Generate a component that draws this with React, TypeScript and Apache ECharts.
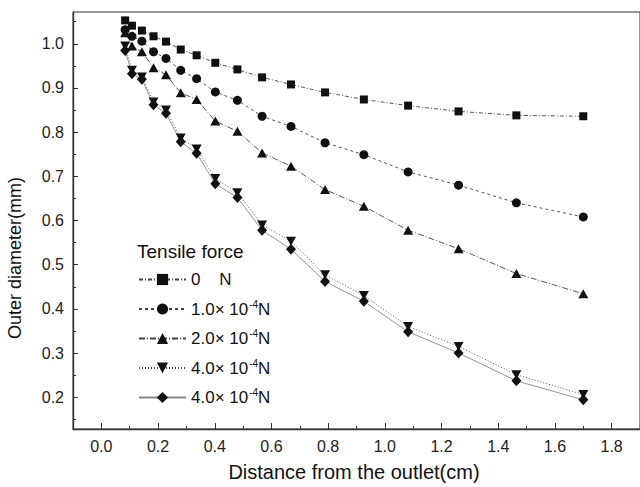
import React, { useEffect, useRef } from "react";
import * as echarts from "echarts";

const distances = [0.084, 0.108, 0.143, 0.184, 0.228, 0.28, 0.336, 0.402, 0.48, 0.567, 0.669, 0.789, 0.926, 1.082, 1.26, 1.464, 1.7];
const force0 = [1.053, 1.041, 1.03, 1.017, 1.005, 0.987, 0.974, 0.957, 0.942, 0.924, 0.908, 0.89, 0.874, 0.86, 0.847, 0.838, 0.836];
const force1 = [1.032, 1.017, 1.006, 0.982, 0.967, 0.94, 0.921, 0.891, 0.872, 0.836, 0.813, 0.776, 0.749, 0.71, 0.68, 0.64, 0.608];
const force2 = [1.025, 0.995, 0.982, 0.946, 0.93, 0.889, 0.874, 0.825, 0.802, 0.753, 0.723, 0.67, 0.632, 0.578, 0.536, 0.48, 0.434];
const force4a = [0.995, 0.94, 0.925, 0.868, 0.85, 0.787, 0.762, 0.695, 0.663, 0.59, 0.553, 0.477, 0.43, 0.36, 0.315, 0.251, 0.206];
const force4b = [0.985, 0.932, 0.92, 0.862, 0.843, 0.778, 0.752, 0.683, 0.652, 0.578, 0.535, 0.462, 0.417, 0.348, 0.3, 0.237, 0.194];

const xLabels = [0, 0.2, 0.4, 0.6, 0.8, 1.0, 1.2, 1.4, 1.6, 1.8];
const xMinor = [0.1, 0.3, 0.5, 0.7, 0.9, 1.1, 1.3, 1.5, 1.7];
const yLabels = [0.2, 0.3, 0.4, 0.5, 0.6, 0.7, 0.8, 0.9, 1.0];
const yMinor = [0.15, 0.25, 0.35, 0.45, 0.55, 0.65, 0.75, 0.85, 0.95, 1.05];

const legendTexts: Record<string, string> = {
  f0: "{a|0    N}",
  f1: "{a|1.0× 10}{s|-4}{a|N}",
  f2: "{a|2.0× 10}{s|-4}{a|N}",
  f4a: "{a|4.0× 10}{s|-4}{a|N}",
  f4b: "{a|4.0× 10}{s|-4}{a|N}",
};

const FONT = "'Liberation Sans', Arial, Helvetica, sans-serif";

export default function App() {
  const ref = useRef<HTMLDivElement>(null);
  useEffect(() => {
    if (!ref.current) return;
    const chart = echarts.init(ref.current, null, { renderer: "svg" });
    const mk = (name: string, vals: number[], symbol: string, size: any, lineType: any, color: string) => ({
      name,
      type: "line",
      xAxisIndex: 0,
      yAxisIndex: 0,
      data: distances.map((x, i) => [x, vals[i]]),
      symbol,
      symbolSize: size,
      showSymbol: true,
      itemStyle: { color: "#111" },
      lineStyle: { color, width: 0.9, type: lineType },
      z: 3,
    });
    const axisLineStyle = { color: "#333", width: 1.4 };
    const option: any = {
      animation: false,
      textStyle: { fontFamily: FONT },
      grid: { left: 73, top: 12, width: 570, height: 417, show: true, borderColor: "#333", borderWidth: 1, containLabel: false },
      xAxis: [
        {
          type: "value", min: -0.1, max: 1.9, position: "bottom",
          axisLine: { show: true, onZero: false, lineStyle: axisLineStyle },
          axisTick: { show: true, inside: true, length: 6, customValues: xLabels, lineStyle: { color: "#333" } },
          axisLabel: { show: true, customValues: xLabels, margin: 9, fontSize: 16, color: "#222", fontFamily: FONT, formatter: (v: number) => v.toFixed(1) },
          splitLine: { show: false },
        },
        {
          type: "value", min: -0.1, max: 1.9, position: "bottom", gridIndex: 0,
          axisLine: { show: false, onZero: false },
          axisTick: { show: true, inside: true, length: 3, customValues: xMinor, lineStyle: { color: "#333" } },
          axisLabel: { show: false },
          splitLine: { show: false },
        },
      ],
      yAxis: [
        {
          type: "value", min: 0.128, max: 1.072, position: "left",
          axisLine: { show: true, onZero: false, lineStyle: axisLineStyle },
          axisTick: { show: true, inside: true, length: 5, customValues: yLabels, lineStyle: { color: "#333" } },
          axisLabel: { show: true, customValues: yLabels, margin: 9, fontSize: 16, color: "#222", fontFamily: FONT, formatter: (v: number) => v.toFixed(1) },
          splitLine: { show: false },
        },
        {
          type: "value", min: 0.128, max: 1.072, position: "left", gridIndex: 0,
          axisLine: { show: false, onZero: false },
          axisTick: { show: true, inside: true, length: 3, customValues: yMinor, lineStyle: { color: "#333" } },
          axisLabel: { show: false },
          splitLine: { show: false },
        },
      ],
      legend: {
        orient: "vertical",
        left: 133,
        top: 266,
        itemWidth: 47,
        itemHeight: 14,
        itemGap: 11,
        data: ["f0", "f1", "f2", "f4a", "f4b"],
        formatter: (name: string) => legendTexts[name],
        textStyle: {
          color: "#111",
          fontFamily: FONT,
          rich: {
            a: { fontSize: 17, lineHeight: 20, color: "#111", fontFamily: FONT },
            s: { fontSize: 10, lineHeight: 20, verticalAlign: "top", color: "#111", fontFamily: FONT, padding: [0, 0, 8, 1] },
          },
        },
      },
      graphic: [
        { type: "text", left: 137, top: 242, style: { text: "Tensile force", fontSize: 19, fill: "#111", fontFamily: FONT } },
        { type: "text", x: 354, y: 472, style: { text: "Distance from the outlet(cm)", fontSize: 20, fill: "#111", fontFamily: FONT, align: "center", verticalAlign: "middle" } },
        { type: "text", x: 15, y: 258, rotation: Math.PI / 2, style: { text: "Outer diameter(mm)", fontSize: 18, fill: "#111", fontFamily: FONT, align: "center", verticalAlign: "middle" } },
      ],
      series: [
        mk("f0", force0, "rect", 8, [4, 2, 1, 2], "#444"),
        mk("f1", force1, "circle", 9, [3, 3], "#444"),
        mk("f2", force2, "triangle", [10, 9], [6, 2, 1, 2], "#444"),
        { ...mk("f4a", force4a, "triangle", [10, 9], [1, 2], "#444"), symbolRotate: 180 },
        mk("f4b", force4b, "diamond", [10, 11], "solid", "#888"),
      ],
    };
    chart.setOption(option);
    return () => chart.dispose();
  }, []);
  return <div ref={ref} style={{ position: "fixed", left: 0, top: 0, width: 640, height: 487, background: "#fff" }} />;
}
